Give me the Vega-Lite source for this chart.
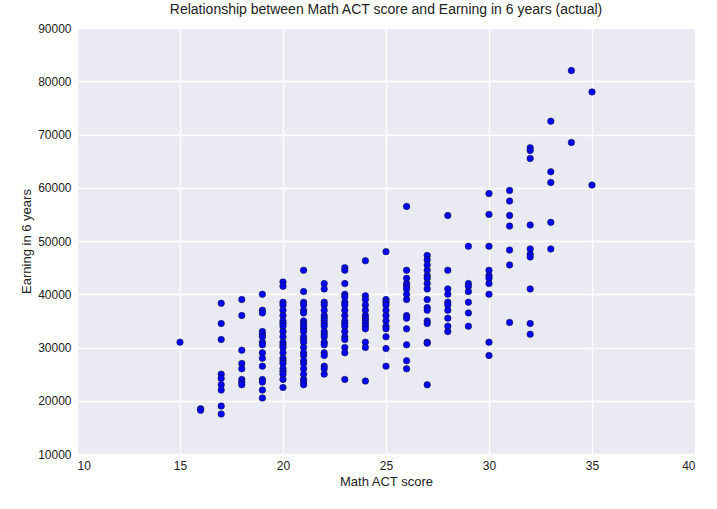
{"$schema":"https://vega.github.io/schema/vega-lite/v6.json","width":618,"height":426,"background":"white","padding":{"left":20,"top":3,"right":5,"bottom":5},
"title":{"text":"Relationship between Math ACT score and Earning in 6 years (actual)","font":"Arial","fontSize":14,"fontWeight":"normal","color":"#222","offset":5},
"config":{"view":{"fill":"#EAEAF2","stroke":null},"font":"Arial","axis":{"domain":false,"ticks":false,"gridColor":"white","gridWidth":1.3,"labelFont":"Arial","labelFontSize":12,"labelColor":"#222","titleFont":"Arial","titleFontSize":13,"titleFontWeight":"normal","titleColor":"#222","labelPadding":6}},
"data":{"values":[
{"x":15,"y":31000},{"x":16,"y":18500},{"x":16,"y":18200},
{"x":17,"y":38300},{"x":17,"y":34500},{"x":17,"y":31500},{"x":17,"y":25000},{"x":17,"y":24200},{"x":17,"y":23000},{"x":17,"y":22000},{"x":17,"y":19000},{"x":17,"y":17500},
{"x":18,"y":39000},{"x":18,"y":36000},{"x":18,"y":29500},{"x":18,"y":27000},{"x":18,"y":26000},{"x":18,"y":24000},{"x":18,"y":23500},{"x":18,"y":23000},
{"x":19,"y":40000},{"x":19,"y":37000},{"x":19,"y":36500},{"x":19,"y":33000},{"x":19,"y":32500},{"x":19,"y":32000},{"x":19,"y":31000},{"x":19,"y":30500},{"x":19,"y":29000},{"x":19,"y":28000},{"x":19,"y":26500},{"x":19,"y":24000},{"x":19,"y":23500},{"x":19,"y":22000},{"x":19,"y":20500},
{"x":20,"y":42300},{"x":20,"y":41500},{"x":20,"y":38500},{"x":20,"y":38000},{"x":20,"y":37000},{"x":20,"y":36000},{"x":20,"y":35000},{"x":20,"y":34500},{"x":20,"y":34000},{"x":20,"y":33000},{"x":20,"y":32000},{"x":20,"y":31000},{"x":20,"y":30500},{"x":20,"y":30000},{"x":20,"y":29000},{"x":20,"y":28000},{"x":20,"y":27500},{"x":20,"y":27000},{"x":20,"y":26000},{"x":20,"y":25500},{"x":20,"y":25000},{"x":20,"y":24000},{"x":20,"y":22500},
{"x":21,"y":44500},{"x":21,"y":40500},{"x":21,"y":38500},{"x":21,"y":38000},{"x":21,"y":37000},{"x":21,"y":36500},{"x":21,"y":35000},{"x":21,"y":34500},{"x":21,"y":34000},{"x":21,"y":33500},{"x":21,"y":33000},{"x":21,"y":32000},{"x":21,"y":31500},{"x":21,"y":31000},{"x":21,"y":30000},{"x":21,"y":29000},{"x":21,"y":28500},{"x":21,"y":27500},{"x":21,"y":27000},{"x":21,"y":26000},{"x":21,"y":25000},{"x":21,"y":24000},{"x":21,"y":23500},{"x":21,"y":23000},
{"x":22,"y":42000},{"x":22,"y":41000},{"x":22,"y":38500},{"x":22,"y":38000},{"x":22,"y":37000},{"x":22,"y":36000},{"x":22,"y":35500},{"x":22,"y":35000},{"x":22,"y":34500},{"x":22,"y":34000},{"x":22,"y":33000},{"x":22,"y":32500},{"x":22,"y":32000},{"x":22,"y":31000},{"x":22,"y":30500},{"x":22,"y":29000},{"x":22,"y":28500},{"x":22,"y":26500},{"x":22,"y":26000},{"x":22,"y":25000},
{"x":23,"y":45000},{"x":23,"y":44500},{"x":23,"y":42000},{"x":23,"y":40000},{"x":23,"y":39500},{"x":23,"y":38500},{"x":23,"y":38000},{"x":23,"y":37000},{"x":23,"y":36000},{"x":23,"y":35000},{"x":23,"y":34500},{"x":23,"y":34000},{"x":23,"y":33000},{"x":23,"y":32000},{"x":23,"y":31500},{"x":23,"y":30000},{"x":23,"y":29000},{"x":23,"y":24000},
{"x":24,"y":46300},{"x":24,"y":39700},{"x":24,"y":39000},{"x":24,"y":38000},{"x":24,"y":37000},{"x":24,"y":36000},{"x":24,"y":35500},{"x":24,"y":35000},{"x":24,"y":34500},{"x":24,"y":34000},{"x":24,"y":33500},{"x":24,"y":31000},{"x":24,"y":30000},{"x":24,"y":23700},
{"x":25,"y":48000},{"x":25,"y":39000},{"x":25,"y":38500},{"x":25,"y":38000},{"x":25,"y":37000},{"x":25,"y":36000},{"x":25,"y":35000},{"x":25,"y":34000},{"x":25,"y":33500},{"x":25,"y":32000},{"x":25,"y":29800},{"x":25,"y":26500},
{"x":26,"y":56500},{"x":26,"y":44500},{"x":26,"y":43000},{"x":26,"y":42000},{"x":26,"y":41500},{"x":26,"y":41000},{"x":26,"y":40000},{"x":26,"y":39000},{"x":26,"y":36000},{"x":26,"y":35500},{"x":26,"y":33500},{"x":26,"y":30500},{"x":26,"y":27500},{"x":26,"y":26000},
{"x":27,"y":47300},{"x":27,"y":46500},{"x":27,"y":45500},{"x":27,"y":44500},{"x":27,"y":43500},{"x":27,"y":43000},{"x":27,"y":42000},{"x":27,"y":41000},{"x":27,"y":39000},{"x":27,"y":37500},{"x":27,"y":37000},{"x":27,"y":35000},{"x":27,"y":34500},{"x":27,"y":31000},{"x":27,"y":30800},{"x":27,"y":23000},
{"x":28,"y":54800},{"x":28,"y":44500},{"x":28,"y":41000},{"x":28,"y":40000},{"x":28,"y":38500},{"x":28,"y":38000},{"x":28,"y":37000},{"x":28,"y":35500},{"x":28,"y":34000},{"x":28,"y":33000},
{"x":29,"y":49000},{"x":29,"y":42000},{"x":29,"y":41500},{"x":29,"y":40500},{"x":29,"y":38500},{"x":29,"y":36500},{"x":29,"y":34000},
{"x":30,"y":58900},{"x":30,"y":55000},{"x":30,"y":49000},{"x":30,"y":44500},{"x":30,"y":43500},{"x":30,"y":43000},{"x":30,"y":42000},{"x":30,"y":40000},{"x":30,"y":31000},{"x":30,"y":28500},
{"x":31,"y":59500},{"x":31,"y":57500},{"x":31,"y":54800},{"x":31,"y":52800},{"x":31,"y":48300},{"x":31,"y":45500},{"x":31,"y":34700},
{"x":32,"y":67500},{"x":32,"y":67000},{"x":32,"y":65500},{"x":32,"y":53000},{"x":32,"y":48500},{"x":32,"y":47500},{"x":32,"y":47000},{"x":32,"y":41000},{"x":32,"y":34500},{"x":32,"y":32500},
{"x":33,"y":72500},{"x":33,"y":63000},{"x":33,"y":61000},{"x":33,"y":53500},{"x":33,"y":48500},
{"x":34,"y":82000},{"x":34,"y":68500},{"x":35,"y":78000},{"x":35,"y":60500}
]},
"mark":{"type":"point","shape":"circle","filled":true,"fill":"#0000FF","stroke":"#1a1a3a","strokeWidth":0.6,"opacity":1,"size":42},
"encoding":{
"x":{"field":"x","type":"quantitative","title":"Math ACT score","scale":{"domain":[10,40],"nice":false,"zero":false},"axis":{"values":[10,15,20,25,30,35,40],"format":"d"}},
"y":{"field":"y","type":"quantitative","title":"Earning in 6 years","scale":{"domain":[10000,90000],"nice":false,"zero":false},"axis":{"values":[10000,20000,30000,40000,50000,60000,70000,80000,90000],"format":"d"}}
}}
